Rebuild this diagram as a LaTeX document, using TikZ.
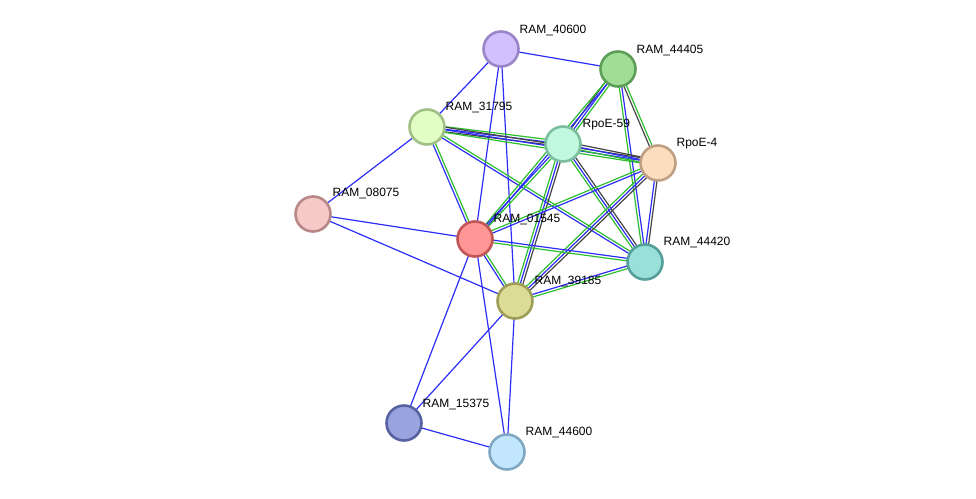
\documentclass[tikz,border=0pt]{standalone}
\usepackage{fontspec}
\setmainfont{Liberation Sans}
\usetikzlibrary{calc}

\pgfdeclarelayer{background}
\pgfsetlayers{background,main}

% evidence colours
\definecolor{evblue}{RGB}{45,45,250}
\definecolor{evgreen}{RGB}{45,190,45}
\definecolor{evblack}{RGB}{70,70,70}

% one evidence line per colour/offset pair
\newcommand{\evid}[3]{%
  \foreach \col/\off in {#3}
    \draw[\col] ($(#1)!\off pt!90:(#2)$) -- ($(#2)!\off pt!-90:(#1)$);
}

\tikzset{
  prot/.style={circle, minimum size=35pt, inner sep=0pt, line width=2.6pt},
  lbl/.style={anchor=base west, inner sep=0pt, font=\fontsize{12}{14}\selectfont},
  every path/.append style={line width=1.2pt}
}

\begin{document}
\begin{tikzpicture}[x=1pt, y=-1pt]
    % Fix the size of the picture
    \useasboundingbox (0,0) rectangle (976,498);

    % Proteins
    \node[prot, fill={rgb,255:red,210;green,192;blue,254}, draw={rgb,255:red,154;green,133;blue,200}] (r40600) at (501,49) {};
    \node[prot, fill={rgb,255:red,160;green,222;blue,150}, draw={rgb,255:red,92;green,158;blue,88}] (r44405) at (618,69) {};
    \node[prot, fill={rgb,255:red,225;green,254;blue,196}, draw={rgb,255:red,160;green,192;blue,134}] (r31795) at (427,127) {};
    \node[prot, fill={rgb,255:red,192;green,249;blue,223}, draw={rgb,255:red,123;green,191;blue,158}] (rpoe59) at (563,144) {};
    \node[prot, fill={rgb,255:red,252;green,221;blue,190}, draw={rgb,255:red,192;green,160;blue,132}] (rpoe4) at (658,163) {};
    \node[prot, fill={rgb,255:red,247;green,200;blue,200}, draw={rgb,255:red,184;green,136;blue,136}] (r08075) at (313,214) {};
    \node[prot, fill={rgb,255:red,254;green,150;blue,150}, draw={rgb,255:red,194;green,85;blue,85}] (r01545) at (475,239) {};
    \node[prot, fill={rgb,255:red,152;green,224;blue,216}, draw={rgb,255:red,86;green,160;blue,155}] (r44420) at (645,262) {};
    \node[prot, fill={rgb,255:red,220;green,220;blue,151}, draw={rgb,255:red,158;green,158;blue,88}] (r39185) at (515,301) {};
    \node[prot, fill={rgb,255:red,153;green,163;blue,223}, draw={rgb,255:red,87;green,98;blue,160}] (r15375) at (404,423) {};
    \node[prot, fill={rgb,255:red,193;green,230;blue,254}, draw={rgb,255:red,129;green,168;blue,195}] (r44600) at (507,452) {};

    % Names
    \node[lbl] (t40600) at ([shift={(18pt,16pt)}]r40600.center) {RAM\_40600};
    \node[lbl] (t44405) at ([shift={(18pt,16pt)}]r44405.center) {RAM\_44405};
    \node[lbl] (t31795) at ([shift={(18pt,17pt)}]r31795.center) {RAM\_31795};
    \node[lbl] (t59) at ([shift={(19pt,17pt)}]rpoe59.center) {RpoE-59};
    \node[lbl] (t4) at ([shift={(18pt,17pt)}]rpoe4.center) {RpoE-4};
    \node[lbl] (t08075) at ([shift={(19pt,18pt)}]r08075.center) {RAM\_08075};
    \node[lbl] (t01545) at ([shift={(18pt,17pt)}]r01545.center) {RAM\_01545};
    \node[lbl] (t44420) at ([shift={(18pt,17pt)}]r44420.center) {RAM\_44420};
    \node[lbl] (t39185) at ([shift={(19pt,17pt)}]r39185.center) {RAM\_39185};
    \node[lbl] (t15375) at ([shift={(18pt,16pt)}]r15375.center) {RAM\_15375};
    \node[lbl] (t44600) at ([shift={(18pt,17pt)}]r44600.center) {RAM\_44600};

    % Evidence lines
    \begin{pgfonlayer}{background}
      \evid{r40600}{r44405}{evblue/0}
      \evid{r40600}{r31795}{evblue/0}
      \evid{r40600}{r01545}{evblue/0}
      \evid{r40600}{r39185}{evblue/0}
      \evid{r31795}{r08075}{evblue/0}
      \evid{r31795}{rpoe59}{evgreen/2.6, evblue/0, evblack/-2.6}
      \evid{r31795}{rpoe4}{evgreen/-2.6, evblue/0, evblack/2.6}
      \evid{r31795}{r01545}{evgreen/1.3, evblue/-1.3}
      \evid{r31795}{r44420}{evgreen/1.3, evblue/-1.3}
      \evid{r44405}{rpoe59}{evgreen/2.6, evblue/0, evblack/-2.6}
      \evid{r44405}{r01545}{evgreen/-1.3, evblue/1.3}
      \evid{r44405}{rpoe4}{evgreen/1.3, evblack/-1.3}
      \evid{r44405}{r44420}{evblue/1.3, evgreen/-1.3}
      \evid{rpoe59}{rpoe4}{evblack/2.6, evblue/0, evgreen/-2.6}
      \evid{rpoe59}{r44420}{evblack/2.6, evblue/0, evgreen/-2.6}
      \evid{rpoe59}{r01545}{evgreen/1.3, evblue/-1.3}
      \evid{rpoe59}{r39185}{evgreen/-2.6, evblue/0, evblack/2.6}
      \evid{rpoe4}{r44420}{evblack/1.3, evblue/-1.3}
      \evid{rpoe4}{r01545}{evblue/1.3, evgreen/-1.3}
      \evid{rpoe4}{r39185}{evblack/2.6, evblue/0, evgreen/-2.6}
      \evid{r44420}{r01545}{evgreen/1.3, evblue/-1.3}
      \evid{r44420}{r39185}{evgreen/1.3, evblue/-1.3}
      \evid{r01545}{r08075}{evblue/0}
      \evid{r01545}{r39185}{evgreen/1.3, evblue/-1.3}
      \evid{r01545}{r15375}{evblue/0}
      \evid{r01545}{r44600}{evblue/0}
      \evid{r08075}{r39185}{evblue/0}
      \evid{r39185}{r15375}{evblue/0}
      \evid{r39185}{r44600}{evblue/0}
      \evid{r15375}{r44600}{evblue/0}
    \end{pgfonlayer}
  \end{tikzpicture}
\end{document}
